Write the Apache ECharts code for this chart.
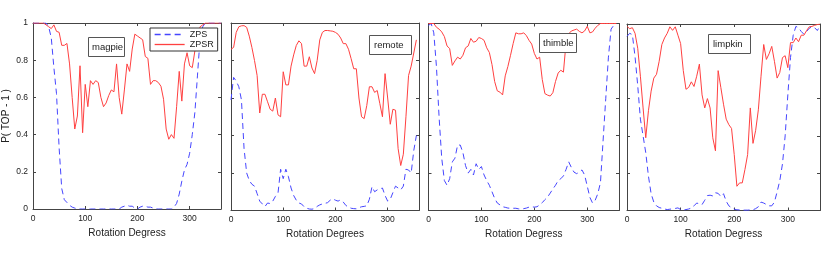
<!DOCTYPE html>
<html><head><meta charset="utf-8">
<script src="https://cdn.jsdelivr.net/npm/echarts@6/dist/echarts.min.js"></script>
<style>html,body{margin:0;padding:0;background:#fff}#c{width:830px;height:263px}</style>
</head><body><div id="c"></div>
<script>
const degrees = [
  0,5,10,15,20,25,30,35,40,45,50,55,
  60,65,70,75,80,85,90,95,100,105,110,115,
  120,125,130,135,140,145,150,155,160,165,170,175,
  180,185,190,195,200,205,210,215,220,225,230,235,
  240,245,250,255,260,265,270,275,280,285,290,295,
  300,305,310,315,320,325,330,335,340,345,350,355,
  360];
const panelNames = ['magpie','remote','thimble','limpkin'];
const xTitles = ['Rotation Degress','Rotation Degrees','Rotation Degress','Rotation Degress'];
const yTitle = 'P( TOP - 1 )';

const magpieZPS = [
  1,1,1,1,1,1,0.98,0.92,0.76,0.62,0.33,0.11,
  0.05,0.035,0.02,0.01,0.005,0,0,0,0,0,0,0,
  0,0,0,0,0,0,0,0,0,0,0.01,0.015,
  0.02,0.015,0.015,0.005,0,0.01,0.015,0.015,0.01,0.01,0.005,0,
  0,0,0,0,0,0,0.01,0.03,0.08,0.15,0.21,0.24,
  0.3,0.4,0.52,0.72,0.92,0.98,1,1,1,1,1,1,
  1];
const magpieZPSR = [
  1,1,1,1,1,0.99,0.98,0.97,0.99,0.955,0.95,0.88,
  0.88,0.89,0.78,0.6,0.43,0.5,0.77,0.41,0.67,0.55,0.69,0.67,
  0.69,0.68,0.6,0.55,0.57,0.61,0.64,0.63,0.78,0.6,0.51,0.64,
  0.78,0.74,0.86,0.94,0.93,0.92,0.91,0.82,0.81,0.67,0.69,0.69,
  0.68,0.66,0.59,0.43,0.375,0.4,0.38,0.55,0.74,0.58,0.78,0.84,
  0.77,0.76,0.85,0.93,0.98,0.99,1,1,1,1,1,1,
  1];
const remoteZPS = [
  0.59,0.71,0.69,0.66,0.59,0.33,0.2,0.16,0.14,0.13,0.09,0.05,
  0.035,0.021,0.04,0.037,0.05,0.075,0.092,0.22,0.17,0.22,0.18,0.12,
  0.08,0.055,0.04,0.035,0.02,0.012,0.008,0.007,0.01,0.022,0.03,0.035,
  0.038,0.042,0.055,0.062,0.055,0.05,0.057,0.045,0.027,0.018,0.012,0.01,
  0.009,0.015,0.02,0.022,0.025,0.06,0.127,0.1,0.11,0.115,0.12,0.08,
  0.05,0.06,0.095,0.13,0.12,0.11,0.13,0.22,0.216,0.2,0.32,0.4];
const remoteZPSR = [
  0.86,0.87,0.95,0.98,0.985,0.986,0.977,0.93,0.87,0.8,0.72,0.52,
  0.62,0.62,0.58,0.54,0.53,0.6,0.51,0.5,0.74,0.67,0.67,0.77,
  0.83,0.88,0.905,0.89,0.77,0.77,0.82,0.76,0.73,0.8,0.91,0.95,
  0.96,0.96,0.958,0.956,0.95,0.94,0.92,0.89,0.89,0.86,0.81,0.756,
  0.756,0.6,0.5,0.49,0.56,0.66,0.66,0.63,0.64,0.57,0.5,0.73,
  0.6,0.46,0.54,0.535,0.33,0.24,0.3,0.5,0.72,0.77,0.84,0.91];
const thimbleZPS = [
  0.99,1,0.95,0.77,0.5,0.28,0.16,0.135,0.17,0.26,0.28,0.35,
  0.35,0.31,0.24,0.2,0.22,0.19,0.25,0.22,0.235,0.19,0.16,0.135,
  0.1,0.065,0.04,0.03,0.02,0.017,0.013,0.012,0.012,0.012,0.009,0.007,
  0.01,0.013,0.018,0.02,0.018,0.02,0.03,0.042,0.058,0.072,0.093,0.115,
  0.135,0.16,0.17,0.185,0.22,0.26,0.23,0.205,0.197,0.205,0.217,0.19,
  0.13,0.07,0.04,0.055,0.09,0.15,0.377,0.6,0.82,0.97,0.99,1];
const thimbleZPSR = [
  1,1,1,0.98,0.97,0.955,0.93,0.88,0.866,0.776,0.8,0.82,
  0.81,0.83,0.87,0.88,0.92,0.9,0.905,0.925,0.92,0.91,0.87,0.845,
  0.78,0.69,0.64,0.633,0.618,0.72,0.77,0.83,0.893,0.95,0.945,0.945,
  0.95,0.935,0.91,0.89,0.84,0.81,0.82,0.7,0.625,0.617,0.612,0.63,
  0.69,0.735,0.75,0.74,0.9,0.945,0.96,0.965,0.97,0.958,0.95,0.96,
  0.985,0.95,0.955,0.975,0.99,1,1,1,1,1,1,1];
const limpkinZPS = [
  0.934,0.95,0.943,0.825,0.67,0.49,0.4,0.31,0.184,0.09,0.045,0.025,
  0.016,0.012,0.008,0.005,0.007,0.009,0.011,0.014,0.005,0.003,0.005,0.008,
  0.013,0.025,0.04,0.036,0.032,0.055,0.08,0.082,0.078,0.095,0.092,0.075,
  0.09,0.05,0.025,0.015,0.007,0.004,0.003,0.002,0.002,0.002,0.003,0.004,
  0.01,0.02,0.045,0.04,0.032,0.025,0.025,0.045,0.1,0.16,0.25,0.4,
  0.62,0.82,0.94,0.987,0.98,0.96,0.945,0.96,0.977,0.985,0.98,0.965,
  0.99];
const limpkinZPSR = [
  0.987,0.975,0.98,0.95,0.87,0.72,0.55,0.39,0.535,0.64,0.71,0.73,
  0.8,0.89,0.925,0.95,0.985,0.966,0.985,0.94,0.895,0.75,0.65,0.66,
  0.69,0.665,0.72,0.785,0.62,0.55,0.6,0.55,0.39,0.32,0.75,0.66,
  0.57,0.49,0.46,0.44,0.3,0.13,0.148,0.148,0.22,0.3,0.55,0.36,
  0.43,0.54,0.72,0.89,0.81,0.84,0.88,0.8,0.71,0.74,0.82,0.83,
  0.766,0.9,0.9,0.925,0.905,0.94,0.94,0.965,0.985,0.987,0.993,0.997,
  1];

const zpsSets = [magpieZPS, remoteZPS, thimbleZPS, limpkinZPS];
const zpsrSets = [magpieZPSR, remoteZPSR, thimbleZPSR, limpkinZPSR];

function pairs(vals){ return vals.map((v,i)=>[degrees[i], v]); }

const blue = '#4646ff', red = '#ff4040';
const grids = [
  {left:32, top:23, width:189, height:186},
  {left:231, top:23, width:188, height:187.5},
  {left:428.5, top:23.5, width:190.5, height:187},
  {left:627, top:24, width:193, height:186.5}
];
const frame = '#444';
const txt = '#222';
const xAxes = [], yAxes = [], series = [];
const lineCfg = {show:true, onZero:false, lineStyle:{color:frame, width:1}};
const tickCfg = {show:true, inside:true, length:3, lineStyle:{color:frame}};
grids.forEach((g,i)=>{
  xAxes.push({gridIndex:i, type:'value', position:'bottom', min:0, max:360, interval:100,
    name:xTitles[i], nameLocation:'middle', nameGap:15,
    nameTextStyle:{fontSize:10, color:txt},
    axisLine:lineCfg, axisTick:tickCfg,
    axisLabel:{fontSize:8.5, color:txt, margin:5, showMaxLabel:false},
    splitLine:{show:false}});
  yAxes.push({gridIndex:i, type:'value', position:'left', min:0, max:1, interval:0.2,
    name: i===0 ? yTitle : '', nameLocation:'middle', nameGap:22,
    nameTextStyle:{fontSize:10, color:txt},
    axisLine:lineCfg, axisTick:tickCfg,
    axisLabel:{show:i===0, fontSize:8.5, color:txt, margin:5},
    splitLine:{show:false}});
});
grids.forEach((g,i)=>{
  xAxes.push({gridIndex:i, type:'value', position:'top', min:0, max:360, interval:100,
    axisLine:lineCfg, axisTick:tickCfg,
    axisLabel:{show:false}, splitLine:{show:false}});
  yAxes.push({gridIndex:i, type:'value', position:'right', min:0, max:1, interval:0.2,
    axisLine:lineCfg, axisTick:tickCfg,
    axisLabel:{show:false}, splitLine:{show:false}});
  series.push({name:'ZPS', type:'line', xAxisIndex:i, yAxisIndex:i, symbol:'none',
    data:pairs(zpsSets[i]), lineStyle:{color:blue, width:1, type:[6,4]},
    itemStyle:{color:blue}, z:2, animation:false});
  series.push({name:'ZPSR', type:'line', xAxisIndex:i, yAxisIndex:i, symbol:'none',
    data:pairs(zpsrSets[i]), lineStyle:{color:red, width:1},
    itemStyle:{color:red}, z:3, animation:false});
});

const labelBoxes = [
  {left:88, top:37, padding:[5,2,5,4]},
  {left:369, top:35, padding:[5,8,5,5]},
  {left:539, top:33, padding:[5,3,5,4]},
  {left:708, top:34, padding:[5,8,5,5]}
];
const titles = labelBoxes.map((b,i)=>({
  text: panelNames[i], left:b.left, top:b.top, padding:b.padding,
  borderColor:'#555', borderWidth:1, backgroundColor:'#fff',
  textStyle:{fontSize:9.5, fontWeight:'normal', color:txt}
}));

const chart = echarts.init(document.getElementById('c'), null, {renderer:'canvas'});
chart.setOption({
  animation:false,
  backgroundColor:'#fff',
  textStyle:{fontFamily:'Liberation Sans, Arial, sans-serif'},
  title: titles,
  legend:{left:150, top:28, orient:'vertical',
    data:['ZPS','ZPSR'],
    padding:[2,4,2,4], itemGap:1, itemWidth:30, itemHeight:9,
    itemStyle:{opacity:0},
    lineStyle:{width:1.3},
    borderColor:'#333', borderWidth:1, backgroundColor:'#fff',
    textStyle:{fontSize:9, color:txt}},
  grid: grids,
  xAxis: xAxes,
  yAxis: yAxes,
  series: series
});
</script></body></html>
